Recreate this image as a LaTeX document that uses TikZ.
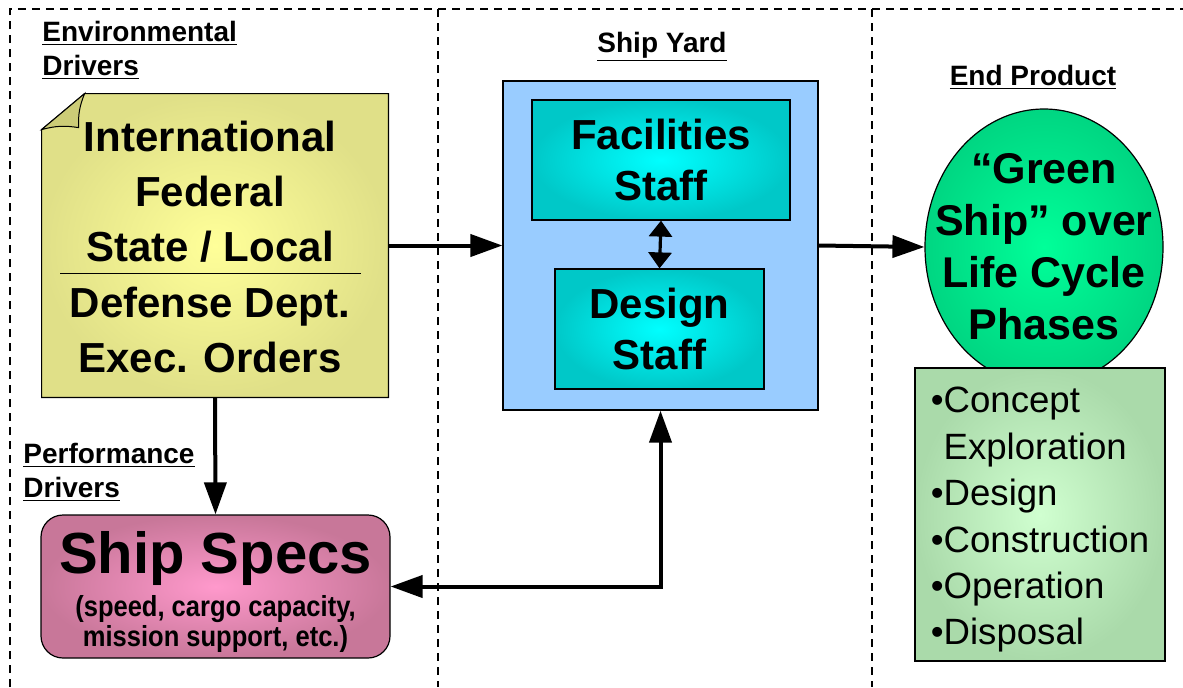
\documentclass[tikz,border=0pt]{standalone}
\usepackage{fontspec}
\setmainfont{Liberation Sans}
\newfontfamily\narrowfont[FakeStretch=0.88]{Liberation Sans}
\usetikzlibrary{arrows.meta,shapes.geometric}

\definecolor{notefill}{RGB}{255,255,153}
\definecolor{noteedge}{RGB}{224,224,136}
\definecolor{noteflap}{RGB}{204,204,119}
\definecolor{yardfill}{RGB}{153,204,255}
\definecolor{stafffill}{RGB}{0,255,255}
\definecolor{staffedge}{RGB}{0,200,200}
\definecolor{shipfill}{RGB}{0,255,153}
\definecolor{shipedge}{RGB}{0,214,130}
\definecolor{phasefill}{RGB}{208,255,208}
\definecolor{phaseedge}{RGB}{170,218,170}
\definecolor{specsfill}{RGB}{255,153,204}
\definecolor{specsedge}{RGB}{200,119,153}

\begin{document}
\begin{tikzpicture}[x=0.5pt,y=-0.5pt]
\tikzset{
  frameline/.style={draw=black,line width=1pt,dash pattern=on 4pt off 3pt},
  heading/.style={font=\fontsize{14}{17}\selectfont\bfseries,align=left,inner sep=0pt},
  bigtext/.style={font=\fontsize{21}{27.5}\selectfont\bfseries,align=center,inner sep=0pt},
  notebox/.style={rectangle,minimum width=173pt,minimum height=151.5pt,inner sep=0pt},
  yardbox/.style={rectangle,draw=black,line width=0.6pt,fill=yardfill,minimum width=157.5pt,minimum height=164.5pt,inner sep=0pt},
  staffbox/.style={rectangle,draw=black,line width=0.6pt,inner color=stafffill,outer color=staffedge,minimum height=60pt,inner sep=0pt,font=\fontsize{21}{25.5}\selectfont\bfseries,align=center},
  shipnode/.style={ellipse,draw=black,line width=0.6pt,inner color=shipfill,outer color=shipedge,minimum width=119pt,minimum height=138pt,inner sep=0pt},
  shiptext/.style={font=\fontsize{21.5}{26}\selectfont\bfseries,align=center,inner sep=0pt},
  phasebox/.style={rectangle,draw=black,line width=0.6pt,inner color=phasefill,outer color=phaseedge,minimum width=125pt,minimum height=146.5pt,inner sep=0pt},
  phasetext/.style={align=left,inner sep=0pt,font=\fontsize{18.3}{23.2}\selectfont},
  specsbox/.style={rectangle,rounded corners=11pt,draw=black,line width=0.6pt,inner color=specsfill,outer color=specsedge,minimum width=174.5pt,minimum height=71.5pt,inner sep=0pt},
  specstitle/.style={font=\fontsize{29}{32}\selectfont\bfseries,inner sep=0pt},
  specsnote/.style={font=\narrowfont\fontsize{14.5}{15}\selectfont\bfseries,align=center,inner sep=0pt},
  flow/.style={draw=black,line width=2pt,-{Triangle[length=16pt,width=11pt]}},
  twoway/.style={draw=black,line width=2pt,{Triangle[length=16pt,width=11pt]}-{Triangle[length=16pt,width=11pt]}},
  staffarrow/.style={draw=black,line width=1.6pt,{Triangle[length=8pt,width=11.5pt]}-{Triangle[length=8pt,width=11.5pt]}}
}
\useasboundingbox (0,0) rectangle (1183,687);
\draw[frameline] (10,687) -- (10,9) -- (1183,9);
\draw[frameline] (438,9) -- (438,687);
\draw[frameline] (872,9) -- (872,687);
\node[heading,anchor=west] (n_envlabel) at (42,50) {\underline{Environmental}\\\underline{Drivers}};
\node[heading] (n_yardlabel) at (662,47) {\underline{Ship Yard}};
\node[heading] (n_endlabel) at (1033,77) {\underline{End Product}};
\node[heading,anchor=west] (n_perflabel) at (23,472) {\underline{Performance}\\\underline{Drivers}};
\node[notebox] (n_note) at (215,245.5) {};
\shadedraw[inner color=notefill,outer color=noteedge,line width=0.6pt] ([yshift=-18pt]n_note.north west) -- ([xshift=21.5pt]n_note.north west) -- (n_note.north east) -- (n_note.south east) -- (n_note.south west) -- cycle;
\filldraw[fill=noteflap,line width=0.5pt] ([yshift=-18pt]n_note.north west) to[bend left=12] ([xshift=18.5pt,yshift=-17pt]n_note.north west) to[bend left=12] ([xshift=21.5pt]n_note.north west) -- cycle;
\draw[line width=0.5pt] (60,273) -- (361,273);
\node[bigtext] (n_levels) at (210,192) {International\\Federal\\State / Local};
\node[bigtext] (n_orders) at (210,330) {Defense Dept.\\Exec. Orders};
\node[yardbox] (n_yard) at (660.5,245.5) {};
\node[staffbox,minimum width=129pt] (n_fac) at (661,160) {Facilities\\Staff};
\node[staffbox,minimum width=104.5pt] (n_des) at (659.5,329) {Design\\Staff};
\node[shipnode] (n_ship) at (1044,247) {};
\node[shiptext] (n_shiptext) at (n_ship) {“Green\\Ship” over\\Life Cycle\\Phases};
\node[phasebox] (n_phases) at (1040,514.5) {};
\node[phasetext] (n_phaselist) at (1040,520) {•Concept\\\hphantom{•}Exploration\\•Design\\•Construction\\•Operation\\•Disposal};
\node[specsbox] (n_specs) at (215.5,586.5) {};
\node[specstitle] (n_specstitle) at (215.5,558) {Ship Specs};
\node[specsnote] (n_specsnote) at (215.5,624) {(speed, cargo capacity,\\mission support, etc.)};
\draw[flow] (n_note.east) -- (n_yard.west);
\draw[flow] (n_yard.east) -- (n_ship.west);
\draw[flow] (n_note.south) -- (n_specs.north);
\draw[twoway] (n_yard.south) |- (n_specs.east);
\draw[staffarrow] (n_fac.south) -- (n_des.north);
\end{tikzpicture}
\end{document}
